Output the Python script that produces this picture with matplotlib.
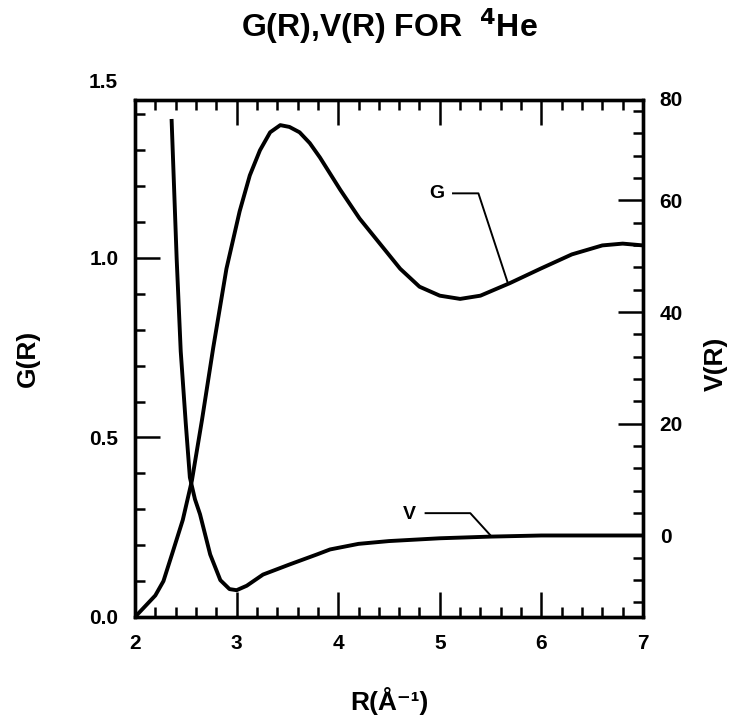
import matplotlib
matplotlib.use("Agg")
import matplotlib.pyplot as plt
from matplotlib.ticker import MultipleLocator, FixedLocator

plt.rcParams['font.family'] = ['Liberation Sans', 'DejaVu Sans']
plt.rcParams['font.weight'] = 'bold'
plt.rcParams['mathtext.default'] = 'bf'

# ---- data ----
r_g = [2.0, 2.1, 2.2, 2.28, 2.37, 2.47, 2.56, 2.66, 2.77, 2.9, 3.03, 3.13, 3.23, 3.33,
       3.43, 3.52, 3.62, 3.72, 3.82, 4.02, 4.21, 4.41, 4.61, 4.80, 5.0, 5.2, 5.4,
       5.69, 5.99, 6.3, 6.6, 6.8, 7.0]
g_vals = [0.0, 0.03, 0.06, 0.10, 0.18, 0.27, 0.38, 0.55, 0.75, 0.97, 1.13, 1.23, 1.30,
          1.35, 1.37, 1.365, 1.35, 1.32, 1.28, 1.19, 1.11, 1.04, 0.97, 0.92, 0.895,
          0.886, 0.895, 0.93, 0.97, 1.01, 1.035, 1.04, 1.035]

r_v = [2.36, 2.41, 2.45, 2.50, 2.54, 2.59, 2.64, 2.74, 2.84, 2.93, 3.0, 3.1, 3.26,
       3.52, 3.79, 3.92, 4.2, 4.5, 5.0, 5.5, 6.0, 6.5, 7.0]
v_vals = [74.6, 49.6, 33, 20, 10.4, 6.5, 3.8, -3.4, -8, -9.6, -9.8, -9, -7, -5.2,
          -3.4, -2.5, -1.5, -1.0, -0.5, -0.2, 0, 0, 0]

x_ticks = [2, 3, 4, 5, 6, 7]
g_ticks = [0.0, 0.5, 1.0]
v_ticks = [0, 20, 40, 60]

title = 'G(R),V(R) FOR  $^{4}$He'

# ---- figure ----
fig = plt.figure(figsize=(7.30, 7.16), dpi=100)
ax = fig.add_axes([135/730, 1-617/716, 508/730, 517/716])
ax2 = ax.twinx()

lw_curve = 2.8
ax.plot(r_g, g_vals, color='black', lw=lw_curve, solid_capstyle='butt')
ax2.plot(r_v, v_vals, color='black', lw=lw_curve, solid_capstyle='butt')

ax.set_xlim(2, 7)
ax.set_ylim(0, 1.44)
ax2.set_ylim(-14.6, 78)

ax.xaxis.set_major_locator(FixedLocator(x_ticks))
ax.xaxis.set_minor_locator(MultipleLocator(0.2))
ax.yaxis.set_major_locator(FixedLocator(g_ticks))
ax.yaxis.set_minor_locator(MultipleLocator(0.1))
ax2.yaxis.set_major_locator(FixedLocator(v_ticks))
ax2.yaxis.set_minor_locator(MultipleLocator(4))

ax.set_xticklabels([str(t) for t in x_ticks])
ax.set_yticklabels(['%.1f' % t for t in g_ticks])
ax2.set_yticklabels([str(t) for t in v_ticks])

for a in (ax, ax2):
    for s in a.spines.values():
        s.set_linewidth(2.4)

ax.tick_params(axis='x', which='both', direction='in', top=True, bottom=True,
               labelsize=15, pad=12, width=1.8)
ax.tick_params(axis='y', which='both', direction='in', left=True, right=False,
               labelsize=15, pad=12, width=1.8)
ax2.tick_params(axis='y', which='both', direction='in', left=False, right=True,
                labelsize=15, pad=12, width=1.8)
for a in (ax, ax2):
    a.tick_params(which='major', length=18)
    a.tick_params(which='minor', length=7)

# extra labels sitting just above the frame
ax.text(-0.033, 1.49, '1.5', transform=ax.get_yaxis_transform(), ha='right',
        va='center', fontsize=15, fontweight='bold', clip_on=False)
ax2.text(1.033, 78, '80', transform=ax2.get_yaxis_transform(), ha='left',
         va='center', fontsize=15, fontweight='bold', clip_on=False)

ax.set_xlabel('R(Å⁻¹)', fontsize=19, fontweight='bold', va='center')
ax.xaxis.set_label_coords(0.5, -0.163)
ax.set_ylabel('G(R)', fontsize=19, fontweight='bold', va='center')
ax.yaxis.set_label_coords(-0.21, 0.5)
ax2.set_ylabel('V(R)', fontsize=19, fontweight='bold', va='center',
               rotation=90, rotation_mode='anchor')
ax2.yaxis.set_label_coords(1.143, 0.49)

ax.set_title(title, fontsize=23, fontweight='bold', pad=45)

# annotations
ax.text(4.97, 1.18, 'G', fontsize=14, fontweight='bold', ha='center', va='center')
ax.plot([5.13, 5.38, 5.67], [1.18, 1.18, 0.93], color='black', lw=1.4)
ax2.text(4.7, 3.8, 'V', fontsize=14, fontweight='bold', ha='center', va='center')
ax2.plot([4.86, 5.3, 5.5], [4.0, 4.0, 0.0], color='black', lw=1.4)

fig.savefig('out.png', dpi=100)
